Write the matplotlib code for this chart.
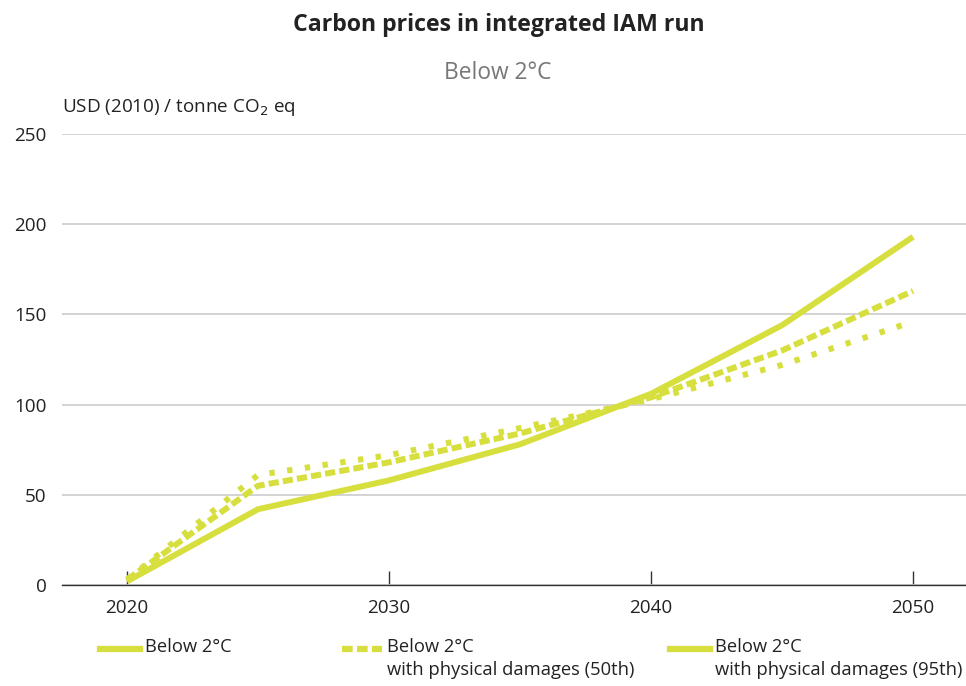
import matplotlib
matplotlib.use('Agg')
import matplotlib.pyplot as plt
from matplotlib.lines import Line2D

plt.rcParams['font.family'] = ['Open Sans', 'DejaVu Sans']

# Data
years = [2020, 2025, 2030, 2035, 2040, 2045, 2050]
below2 = [2, 42, 58, 78, 106, 144, 193]
below2_p50 = [3, 55, 68, 84, 104, 130, 163]
below2_p95 = [3, 61, 72, 87, 103, 122, 146]
xticks = [2020, 2030, 2040, 2050]
yticks = [0, 50, 100, 150, 200, 250]

green = '#d7df3f'

fig = plt.figure(figsize=(9.66, 6.86), dpi=100)
ax = fig.add_axes([62 / 966, 1 - 585 / 686, 1 - 62 / 966, (585 - 134) / 686])

ax.plot(years, below2, color=green, lw=4.3, solid_capstyle='butt', clip_on=False, zorder=3)
ax.plot(years, below2_p50, color=green, lw=4.3, dashes=(1.7, 0.7), clip_on=False, zorder=3)
ax.plot(years, below2_p95, color=green, lw=4.3, dashes=(0.9, 2.1), clip_on=False, zorder=3)

ax.set_xlim(2017.52, 2052.02)
ax.set_ylim(0, 250)
ax.set_xticks(xticks)
ax.set_yticks(yticks)
ax.yaxis.grid(True, color='#cccccc', lw=1.2)
ax.set_axisbelow(True)
for s in ['top', 'right', 'left']:
    ax.spines[s].set_visible(False)
ax.spines['bottom'].set_color('#333333')
ax.spines['bottom'].set_linewidth(1.0)
ax.tick_params(axis='x', direction='in', length=10, width=1, color='#333333',
               labelsize=13.6, pad=10, labelcolor='#222222')
ax.tick_params(axis='y', length=0, labelsize=13.6, pad=11, labelcolor='#222222')

fig.text(0.516, 1 - 25 / 686, 'Carbon prices in integrated IAM run', ha='center', va='center',
         fontsize=16.7, fontweight='bold', color='#222222')
fig.text(498 / 966, 1 - 73 / 686, 'Below 2°C', ha='center', va='center',
         fontsize=16.4, color='#777777')
fig.text(62 / 966, 1 - 108 / 686, 'USD (2010) / tonne CO$_2$ eq', ha='left', va='center',
         fontsize=13.6, color='#222222')

# legend drawn by hand (third key is shown solid in the original)
legend_items = [
    (100, 'Below 2°C', None),
    (342, 'Below 2°C\nwith physical damages (50th)', (1.7, 0.7)),
    (670, 'Below 2°C\nwith physical damages (95th)', None),
]
for x0, label, dash in legend_items:
    y = 1 - 649 / 686
    ln = Line2D([x0 / 966, (x0 + 40) / 966], [y, y], color=green, lw=4.5,
                transform=fig.transFigure)
    if dash:
        ln.set_dashes(dash)
    fig.add_artist(ln)
    fig.text((x0 + 45) / 966, 1 - 638 / 686, label, ha='left', va='top',
             fontsize=13.2, color='#222222', linespacing=1.38)

fig.savefig('out.png', dpi=100)
